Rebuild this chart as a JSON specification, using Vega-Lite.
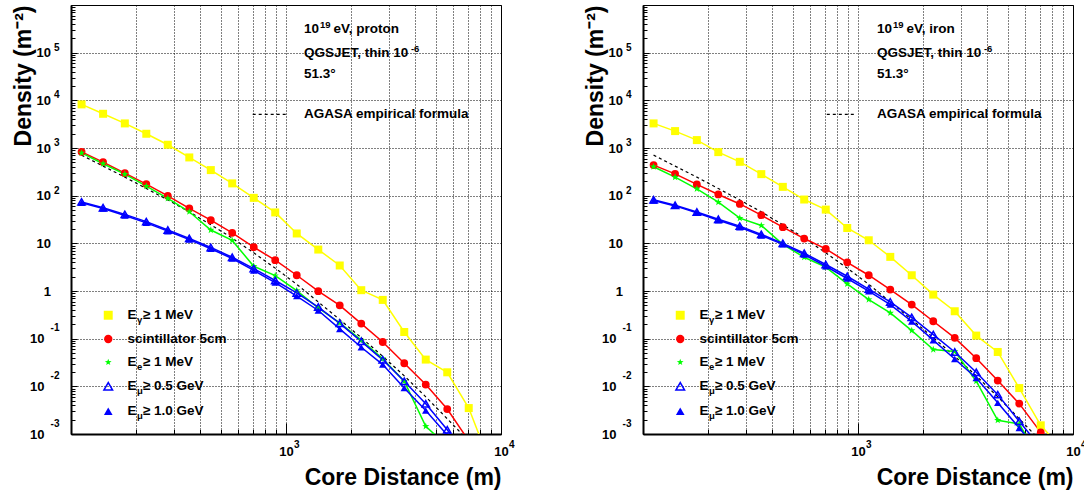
{
"$schema": "https://vega.github.io/schema/vega-lite/v6.json",
"padding": {"left": 12, "top": 4, "right": 0, "bottom": 0},
"bounds": "flush",
"spacing": 142,
"config": {
  "font": "Liberation Sans",
  "view": {"stroke": "#000", "strokeWidth": 1},
  "axis": {"labelFont": "Liberation Sans", "titleFont": "Liberation Sans", "labelFontWeight": "bold", "titleFontWeight": "bold", "labelColor": "#000", "titleColor": "#000", "domainColor": "#000", "domainWidth": 2, "tickColor": "#000", "tickWidth": 1, "gridColor": "#000", "gridDash": [1, 2], "gridWidth": 1, "labelFlush": false, "labelOverlap": false, "labelBound": false}
},
"datasets": {
  "agasa": [
    {"r":112,"v":708,"s":"ag"},{"r":141,"v":417,"s":"ag"},{"r":178,"v":245,"s":"ag"},{"r":224,"v":141,"s":"ag"},{"r":282,"v":81.3,"s":"ag"},{"r":355,"v":45.7,"s":"ag"},{"r":447,"v":24.5,"s":"ag"},{"r":562,"v":12.9,"s":"ag"},{"r":708,"v":6.31,"s":"ag"},{"r":891,"v":3.02,"s":"ag"},{"r":1122,"v":1.38,"s":"ag"},{"r":1413,"v":0.589,"s":"ag"},{"r":1778,"v":0.251,"s":"ag"},{"r":2239,"v":0.105,"s":"ag"},{"r":2818,"v":0.0427,"s":"ag"},{"r":3548,"v":0.0166,"s":"ag"},{"r":4467,"v":0.00603,"s":"ag"},{"r":5623,"v":0.00209,"s":"ag"},{"r":7079,"v":0.000708,"s":"ag"},{"r":8913,"v":0.000251,"s":"ag"}
  ],
  "yexp_pos": [{"t":100000,"e":"5"},{"t":10000,"e":"4"},{"t":1000,"e":"3"},{"t":100,"e":"2"}],
  "yexp_neg": [{"t":0.1,"e":"-1"},{"t":0.01,"e":"-2"},{"t":0.001,"e":"-3"}],
  "xexp": [{"t":1000,"e":"3"},{"t":10000,"e":"4"}],
  "proton": [
    {"r":112,"v":8220,"s":"g"},{"r":141,"v":5220,"s":"g"},{"r":178,"v":3280,"s":"g"},{"r":224,"v":1990,"s":"g"},{"r":282,"v":1170,"s":"g"},{"r":355,"v":634,"s":"g"},{"r":447,"v":344,"s":"g"},{"r":562,"v":181,"s":"g"},{"r":708,"v":90,"s":"g"},{"r":891,"v":44.5,"s":"g"},{"r":1122,"v":16.1,"s":"g"},{"r":1413,"v":7.4,"s":"g"},{"r":1778,"v":3.43,"s":"g"},{"r":2239,"v":1.04,"s":"g"},{"r":2818,"v":0.65,"s":"g"},{"r":3548,"v":0.138,"s":"g"},{"r":4467,"v":0.0364,"s":"g"},{"r":5623,"v":0.0197,"s":"g"},{"r":7079,"v":0.0035,"s":"g"},{"r":8913,"v":0.00024,"s":"g"},
    {"r":112,"v":832,"s":"sc"},{"r":141,"v":506,"s":"sc"},{"r":178,"v":297,"s":"sc"},{"r":224,"v":175,"s":"sc"},{"r":282,"v":99,"s":"sc"},{"r":355,"v":54,"s":"sc"},{"r":447,"v":30.6,"s":"sc"},{"r":562,"v":16.6,"s":"sc"},{"r":708,"v":8.3,"s":"sc"},{"r":891,"v":4.43,"s":"sc"},{"r":1122,"v":2.14,"s":"sc"},{"r":1413,"v":0.99,"s":"sc"},{"r":1778,"v":0.5,"s":"sc"},{"r":2239,"v":0.207,"s":"sc"},{"r":2818,"v":0.085,"s":"sc"},{"r":3548,"v":0.0305,"s":"sc"},{"r":4467,"v":0.0109,"s":"sc"},{"r":5623,"v":0.00334,"s":"sc"},{"r":7079,"v":0.00072,"s":"sc"},
    {"r":112,"v":790,"s":"e"},{"r":141,"v":467,"s":"e"},{"r":178,"v":283,"s":"e"},{"r":224,"v":158,"s":"e"},{"r":282,"v":87.5,"s":"e"},{"r":355,"v":46,"s":"e"},{"r":447,"v":19,"s":"e"},{"r":562,"v":11.5,"s":"e"},{"r":708,"v":3.3,"s":"e"},{"r":891,"v":2.1,"s":"e"},{"r":1122,"v":1.02,"s":"e"},{"r":1413,"v":0.44,"s":"e"},{"r":1778,"v":0.214,"s":"e"},{"r":2239,"v":0.093,"s":"e"},{"r":2818,"v":0.038,"s":"e"},{"r":3548,"v":0.0128,"s":"e"},{"r":4467,"v":0.00145,"s":"e"},{"r":5623,"v":0.00056,"s":"e"},
    {"r":112,"v":74,"s":"m5"},{"r":141,"v":56,"s":"m5"},{"r":178,"v":40.5,"s":"m5"},{"r":224,"v":28.5,"s":"m5"},{"r":282,"v":19,"s":"m5"},{"r":355,"v":12.7,"s":"m5"},{"r":447,"v":8.2,"s":"m5"},{"r":562,"v":5.1,"s":"m5"},{"r":708,"v":2.95,"s":"m5"},{"r":891,"v":1.66,"s":"m5"},{"r":1122,"v":0.91,"s":"m5"},{"r":1413,"v":0.46,"s":"m5"},{"r":1778,"v":0.21,"s":"m5"},{"r":2239,"v":0.088,"s":"m5"},{"r":2818,"v":0.036,"s":"m5"},{"r":3548,"v":0.0128,"s":"m5"},{"r":4467,"v":0.0043,"s":"m5"},{"r":5623,"v":0.00123,"s":"m5"},{"r":7079,"v":0.0003,"s":"m5"},
    {"r":112,"v":70.7,"s":"m1"},{"r":141,"v":54,"s":"m1"},{"r":178,"v":38.5,"s":"m1"},{"r":224,"v":26.9,"s":"m1"},{"r":282,"v":18,"s":"m1"},{"r":355,"v":12,"s":"m1"},{"r":447,"v":7.7,"s":"m1"},{"r":562,"v":4.8,"s":"m1"},{"r":708,"v":2.7,"s":"m1"},{"r":891,"v":1.5,"s":"m1"},{"r":1122,"v":0.78,"s":"m1"},{"r":1413,"v":0.39,"s":"m1"},{"r":1778,"v":0.16,"s":"m1"},{"r":2239,"v":0.066,"s":"m1"},{"r":2818,"v":0.0286,"s":"m1"},{"r":3548,"v":0.0092,"s":"m1"},{"r":4467,"v":0.0031,"s":"m1"},{"r":5623,"v":0.00095,"s":"m1"},{"r":7079,"v":0.0002,"s":"m1"}
  ],
  "iron": [
    {"r":112,"v":3280,"s":"g"},{"r":141,"v":2264,"s":"g"},{"r":178,"v":1466,"s":"g"},{"r":224,"v":820,"s":"g"},{"r":282,"v":513,"s":"g"},{"r":355,"v":283,"s":"g"},{"r":447,"v":153,"s":"g"},{"r":562,"v":83,"s":"g"},{"r":708,"v":51,"s":"g"},{"r":891,"v":21,"s":"g"},{"r":1122,"v":11.6,"s":"g"},{"r":1413,"v":5.2,"s":"g"},{"r":1778,"v":2.14,"s":"g"},{"r":2239,"v":0.84,"s":"g"},{"r":2818,"v":0.376,"s":"g"},{"r":3548,"v":0.116,"s":"g"},{"r":4467,"v":0.0526,"s":"g"},{"r":5623,"v":0.0092,"s":"g"},{"r":7079,"v":0.00152,"s":"g"},{"r":8913,"v":0.00048,"s":"g"},
    {"r":112,"v":438,"s":"sc"},{"r":141,"v":287,"s":"sc"},{"r":178,"v":172,"s":"sc"},{"r":224,"v":106,"s":"sc"},{"r":282,"v":67,"s":"sc"},{"r":355,"v":39,"s":"sc"},{"r":447,"v":21.8,"s":"sc"},{"r":562,"v":12.6,"s":"sc"},{"r":708,"v":7.65,"s":"sc"},{"r":891,"v":4.0,"s":"sc"},{"r":1122,"v":2.14,"s":"sc"},{"r":1413,"v":1.07,"s":"sc"},{"r":1778,"v":0.52,"s":"sc"},{"r":2239,"v":0.232,"s":"sc"},{"r":2818,"v":0.104,"s":"sc"},{"r":3548,"v":0.039,"s":"sc"},{"r":4467,"v":0.0132,"s":"sc"},{"r":5623,"v":0.00434,"s":"sc"},{"r":7079,"v":0.00108,"s":"sc"},{"r":8913,"v":0.00027,"s":"sc"},
    {"r":112,"v":404,"s":"e"},{"r":141,"v":245,"s":"e"},{"r":178,"v":139,"s":"e"},{"r":224,"v":73,"s":"e"},{"r":282,"v":33.7,"s":"e"},{"r":355,"v":23.7,"s":"e"},{"r":447,"v":9.5,"s":"e"},{"r":562,"v":5.1,"s":"e"},{"r":708,"v":3.16,"s":"e"},{"r":891,"v":1.41,"s":"e"},{"r":1122,"v":0.66,"s":"e"},{"r":1413,"v":0.347,"s":"e"},{"r":1778,"v":0.148,"s":"e"},{"r":2239,"v":0.059,"s":"e"},{"r":2818,"v":0.054,"s":"e"},{"r":3548,"v":0.0128,"s":"e"},{"r":4467,"v":0.00194,"s":"e"},{"r":5623,"v":0.00162,"s":"e"},{"r":7079,"v":0.00028,"s":"e"},
    {"r":112,"v":82,"s":"m5"},{"r":141,"v":63,"s":"m5"},{"r":178,"v":45.5,"s":"m5"},{"r":224,"v":32,"s":"m5"},{"r":282,"v":23,"s":"m5"},{"r":355,"v":15.4,"s":"m5"},{"r":447,"v":10,"s":"m5"},{"r":562,"v":6.2,"s":"m5"},{"r":708,"v":3.6,"s":"m5"},{"r":891,"v":2.04,"s":"m5"},{"r":1122,"v":1.1,"s":"m5"},{"r":1413,"v":0.59,"s":"m5"},{"r":1778,"v":0.28,"s":"m5"},{"r":2239,"v":0.122,"s":"m5"},{"r":2818,"v":0.0526,"s":"m5"},{"r":3548,"v":0.0197,"s":"m5"},{"r":4467,"v":0.0067,"s":"m5"},{"r":5623,"v":0.00185,"s":"m5"},{"r":7079,"v":0.00052,"s":"m5"},
    {"r":112,"v":79,"s":"m1"},{"r":141,"v":61,"s":"m1"},{"r":178,"v":43.6,"s":"m1"},{"r":224,"v":30.6,"s":"m1"},{"r":282,"v":21.8,"s":"m1"},{"r":355,"v":14.6,"s":"m1"},{"r":447,"v":9.5,"s":"m1"},{"r":562,"v":5.8,"s":"m1"},{"r":708,"v":3.3,"s":"m1"},{"r":891,"v":1.83,"s":"m1"},{"r":1122,"v":0.99,"s":"m1"},{"r":1413,"v":0.52,"s":"m1"},{"r":1778,"v":0.23,"s":"m1"},{"r":2239,"v":0.093,"s":"m1"},{"r":2818,"v":0.0375,"s":"m1"},{"r":3548,"v":0.015,"s":"m1"},{"r":4467,"v":0.0045,"s":"m1"},{"r":5623,"v":0.00134,"s":"m1"},{"r":7079,"v":0.00038,"s":"m1"}
  ]
},
"hconcat": [
 {
  "width": 430, "height": 429,
  "data": {"name": "proton"},
  "layer": [
    {"data": {"name": "agasa"}, "mark": {"type": "line", "color": "#000", "strokeDash": [3, 3], "strokeWidth": 1.2, "clip": true},
     "encoding": {
      "x": {"field": "r", "type": "quantitative", "scale": {"type": "log", "domain": [100, 10000], "nice": false},
        "axis": {"values": [100,200,300,400,500,600,700,800,900,1000,2000,3000,4000,5000,6000,7000,8000,9000,10000],
          "labelExpr": "datum.value == 1000 || datum.value == 10000 ? '10' : ''",
          "title": "Core Distance (m)", "titleAnchor": "end", "titleFontSize": 23, "titlePadding": 8,
          "labelFontSize": {"condition": {"test": "datum.value == 1000 || datum.value == 10000", "value": 13}, "value": 0},
          "tickSize": {"condition": {"test": "datum.value == 100 || datum.value == 1000 || datum.value == 10000", "value": -11}, "value": -4.5},
          "labelPadding": {"condition": {"test": "datum.value == 100 || datum.value == 1000 || datum.value == 10000", "value": 22.5}, "value": 16}}},
      "y": {"field": "v", "type": "quantitative", "scale": {"type": "log", "domain": [0.001, 1000000], "nice": false},
        "axis": {"values": [0.001,0.002,0.003,0.004,0.005,0.006,0.007,0.008,0.009,0.01,0.02,0.03,0.04,0.05,0.06,0.07,0.08,0.09,0.1,0.2,0.3,0.4,0.5,0.6,0.7,0.8,0.9,1,2,3,4,5,6,7,8,9,10,20,30,40,50,60,70,80,90,100,200,300,400,500,600,700,800,900,1000,2000,3000,4000,5000,6000,7000,8000,9000,10000,20000,30000,40000,50000,60000,70000,80000,90000,100000,200000,300000,400000,500000,600000,700000,800000,900000],
          "labelExpr": "indexof([0.001,0.01,0.1,10,100,1000,10000,100000], datum.value) >= 0 ? '10' : datum.value == 1 ? '1' : ''",
          "title": "Density (m⁻²)", "titleAnchor": "end", "titleFontSize": 23, "titlePadding": -6,
          "labelFontSize": {"condition": {"test": "indexof([0.001,0.01,0.1,1,10,100,1000,10000,100000], datum.value) >= 0", "value": 13}, "value": 0},
          "tickSize": {"condition": {"test": "indexof([0.001,0.01,0.1,1,10,100,1000,10000,100000,1000000], datum.value) >= 0", "value": -6}, "value": -4},
          "labelPadding": {"condition": {"test": "datum.value < 0.5", "value": 33}, "value": 26.5},
          "gridOpacity": {"condition": {"test": "indexof([0.001,0.01,0.1,1,10,100,1000,10000,100000,1000000], datum.value) >= 0", "value": 1}, "value": 0}}}
     }},
    {"mark": {"type": "line", "strokeWidth": 1.5, "clip": true},
     "encoding": {"x": {"field": "r", "type": "quantitative"}, "y": {"field": "v", "type": "quantitative"},
       "color": {"field": "s", "type": "nominal", "scale": {"domain": ["g","sc","e","m5","m1"], "range": ["#ffff00","#ff0000","#00ff00","#0000ff","#0000ff"]}, "legend": null}}},
    {"transform": [{"filter": "datum.s != 'm5'"}],
     "mark": {"type": "point", "filled": true, "opacity": 1, "clip": true},
     "encoding": {"x": {"field": "r", "type": "quantitative"}, "y": {"field": "v", "type": "quantitative"},
       "color": {"field": "s", "type": "nominal", "scale": {"domain": ["g","sc","e","m5","m1"], "range": ["#ffff00","#ff0000","#00ff00","#0000ff","#0000ff"]}, "legend": null},
       "shape": {"field": "s", "type": "nominal", "scale": {"domain": ["g","sc","e","m1"], "range": ["square","circle","M0,-1L0.235,-0.324L0.951,-0.309L0.38,0.124L0.588,0.809L0,0.4L-0.588,0.809L-0.38,0.124L-0.951,-0.309L-0.235,-0.324Z","triangle-up"]}, "legend": null},
       "size": {"field": "s", "type": "nominal", "scale": {"domain": ["g","sc","e","m1"], "range": [64,55,40,65]}, "legend": null}}},
    {"transform": [{"filter": "datum.s == 'm5'"}],
     "mark": {"type": "point", "filled": false, "opacity": 1, "color": "#0000ff", "strokeWidth": 1.5, "shape": "triangle-up", "size": 55, "clip": true},
     "encoding": {"x": {"field": "r", "type": "quantitative"}, "y": {"field": "v", "type": "quantitative"}}},
    {"data": {"name": "yexp_pos"}, "mark": {"type": "text", "align": "right", "baseline": "middle", "dx": -11.5, "dy": -5, "fontSize": 10, "fontWeight": "bold"}, "encoding": {"x": {"datum": 100}, "y": {"field": "t", "type": "quantitative"}, "text": {"field": "e"}}},
    {"data": {"name": "yexp_neg"}, "mark": {"type": "text", "align": "right", "baseline": "middle", "dx": -11.5, "dy": -10.5, "fontSize": 10, "fontWeight": "bold"}, "encoding": {"x": {"datum": 100}, "y": {"field": "t", "type": "quantitative"}, "text": {"field": "e"}}},
    {"data": {"name": "xexp"}, "mark": {"type": "text", "align": "left", "baseline": "middle", "dx": 8, "dy": 10.5, "fontSize": 10, "fontWeight": "bold"}, "encoding": {"x": {"field": "t", "type": "quantitative"}, "y": {"datum": 0.001}, "text": {"field": "e"}}},
    {"data": {"values": [{}]}, "mark": {"type": "text", "text": "10", "align": "left", "baseline": "middle", "fontSize": 13.5, "fontWeight": "bold"}, "encoding": {"x": {"datum": 1211}, "y": {"datum": 310000}}},
    {"data": {"values": [{}]}, "mark": {"type": "text", "text": "19", "align": "left", "baseline": "middle", "fontSize": 9.5, "fontWeight": "bold", "dx": 16, "dy": -4}, "encoding": {"x": {"datum": 1211}, "y": {"datum": 310000}}},
    {"data": {"values": [{}]}, "mark": {"type": "text", "text": "eV, proton", "align": "left", "baseline": "middle", "fontSize": 13.5, "fontWeight": "bold", "dx": 29.5}, "encoding": {"x": {"datum": 1211}, "y": {"datum": 310000}}},
    {"data": {"values": [{}]}, "mark": {"type": "text", "text": "QGSJET, thin 10", "align": "left", "baseline": "middle", "fontSize": 13.5, "fontWeight": "bold"}, "encoding": {"x": {"datum": 1211}, "y": {"datum": 100000}}},
    {"data": {"values": [{}]}, "mark": {"type": "text", "text": "-6", "align": "left", "baseline": "middle", "fontSize": 9.5, "fontWeight": "bold", "dx": 107, "dy": -4}, "encoding": {"x": {"datum": 1211}, "y": {"datum": 100000}}},
    {"data": {"values": [{}]}, "mark": {"type": "text", "text": "51.3°", "align": "left", "baseline": "middle", "fontSize": 13.5, "fontWeight": "bold"}, "encoding": {"x": {"datum": 1211}, "y": {"datum": 35000}}},
    {"data": {"values": [{}]}, "mark": {"type": "text", "text": "AGASA empirical formula", "align": "left", "baseline": "middle", "fontSize": 13.5, "fontWeight": "bold"}, "encoding": {"x": {"datum": 1211}, "y": {"datum": 5070}}},
    {"data": {"values": [{}]}, "mark": {"type": "rule", "color": "#000", "strokeDash": [3, 3], "strokeWidth": 1.2}, "encoding": {"x": {"datum": 700}, "x2": {"datum": 1000}, "y": {"datum": 5070}}},
    {"data": {"values": [{}]}, "mark": {"type": "point", "filled": true, "opacity": 1, "shape": "square", "size": 80, "color": "#ffff00"}, "encoding": {"x": {"datum": 149}, "y": {"datum": 0.31}}},
    {"data": {"values": [{}]}, "mark": {"type": "point", "filled": true, "opacity": 1, "shape": "circle", "size": 70, "color": "#ff0000"}, "encoding": {"x": {"datum": 149}, "y": {"datum": 0.0986}}},
    {"data": {"values": [{}]}, "mark": {"type": "point", "filled": true, "opacity": 1, "shape": "M0,-1L0.235,-0.324L0.951,-0.309L0.38,0.124L0.588,0.809L0,0.4L-0.588,0.809L-0.38,0.124L-0.951,-0.309L-0.235,-0.324Z", "size": 50, "color": "#00ff00"}, "encoding": {"x": {"datum": 149}, "y": {"datum": 0.032}}},
    {"data": {"values": [{}]}, "mark": {"type": "point", "filled": false, "opacity": 1, "shape": "triangle-up", "size": 75, "strokeWidth": 1.5, "color": "#0000ff"}, "encoding": {"x": {"datum": 149}, "y": {"datum": 0.01}}},
    {"data": {"values": [{}]}, "mark": {"type": "point", "filled": true, "opacity": 1, "shape": "triangle-up", "size": 75, "color": "#0000ff"}, "encoding": {"x": {"datum": 149}, "y": {"datum": 0.003}}},
    {"data": {"values": [{}]}, "mark": {"type": "text", "text": "E", "align": "left", "baseline": "middle", "fontSize": 13.5, "fontWeight": "bold"}, "encoding": {"x": {"datum": 183}, "y": {"datum": 0.31}}},
    {"data": {"values": [{}]}, "mark": {"type": "text", "text": "γ", "align": "left", "baseline": "middle", "fontSize": 9.5, "fontWeight": "bold", "dx": 9.5, "dy": 5}, "encoding": {"x": {"datum": 183}, "y": {"datum": 0.31}}},
    {"data": {"values": [{}]}, "mark": {"type": "text", "text": "≥ 1 MeV", "align": "left", "baseline": "middle", "fontSize": 13.5, "fontWeight": "bold", "dx": 15.5}, "encoding": {"x": {"datum": 183}, "y": {"datum": 0.31}}},
    {"data": {"values": [{}]}, "mark": {"type": "text", "text": "scintillator 5cm", "align": "left", "baseline": "middle", "fontSize": 13.5, "fontWeight": "bold"}, "encoding": {"x": {"datum": 183}, "y": {"datum": 0.0986}}},
    {"data": {"values": [{}]}, "mark": {"type": "text", "text": "E", "align": "left", "baseline": "middle", "fontSize": 13.5, "fontWeight": "bold"}, "encoding": {"x": {"datum": 183}, "y": {"datum": 0.032}}},
    {"data": {"values": [{}]}, "mark": {"type": "text", "text": "e", "align": "left", "baseline": "middle", "fontSize": 9.5, "fontWeight": "bold", "dx": 9.5, "dy": 5}, "encoding": {"x": {"datum": 183}, "y": {"datum": 0.032}}},
    {"data": {"values": [{}]}, "mark": {"type": "text", "text": "≥ 1 MeV", "align": "left", "baseline": "middle", "fontSize": 13.5, "fontWeight": "bold", "dx": 15.5}, "encoding": {"x": {"datum": 183}, "y": {"datum": 0.032}}},
    {"data": {"values": [{}]}, "mark": {"type": "text", "text": "E", "align": "left", "baseline": "middle", "fontSize": 13.5, "fontWeight": "bold"}, "encoding": {"x": {"datum": 183}, "y": {"datum": 0.01}}},
    {"data": {"values": [{}]}, "mark": {"type": "text", "text": "μ", "align": "left", "baseline": "middle", "fontSize": 9.5, "fontWeight": "bold", "dx": 9.5, "dy": 5}, "encoding": {"x": {"datum": 183}, "y": {"datum": 0.01}}},
    {"data": {"values": [{}]}, "mark": {"type": "text", "text": "≥ 0.5 GeV", "align": "left", "baseline": "middle", "fontSize": 13.5, "fontWeight": "bold", "dx": 15.5}, "encoding": {"x": {"datum": 183}, "y": {"datum": 0.01}}},
    {"data": {"values": [{}]}, "mark": {"type": "text", "text": "E", "align": "left", "baseline": "middle", "fontSize": 13.5, "fontWeight": "bold"}, "encoding": {"x": {"datum": 183}, "y": {"datum": 0.003}}},
    {"data": {"values": [{}]}, "mark": {"type": "text", "text": "μ", "align": "left", "baseline": "middle", "fontSize": 9.5, "fontWeight": "bold", "dx": 9.5, "dy": 5}, "encoding": {"x": {"datum": 183}, "y": {"datum": 0.003}}},
    {"data": {"values": [{}]}, "mark": {"type": "text", "text": "≥ 1.0 GeV", "align": "left", "baseline": "middle", "fontSize": 13.5, "fontWeight": "bold", "dx": 15.5}, "encoding": {"x": {"datum": 183}, "y": {"datum": 0.003}}}
  ]
 },
 {
  "width": 430, "height": 429,
  "data": {"name": "iron"},
  "layer": [
    {"data": {"name": "agasa"}, "mark": {"type": "line", "color": "#000", "strokeDash": [3, 3], "strokeWidth": 1.2, "clip": true},
     "encoding": {
      "x": {"field": "r", "type": "quantitative", "scale": {"type": "log", "domain": [100, 10000], "nice": false},
        "axis": {"values": [100,200,300,400,500,600,700,800,900,1000,2000,3000,4000,5000,6000,7000,8000,9000,10000],
          "labelExpr": "datum.value == 1000 || datum.value == 10000 ? '10' : ''",
          "title": "Core Distance (m)", "titleAnchor": "end", "titleFontSize": 23, "titlePadding": 8,
          "labelFontSize": {"condition": {"test": "datum.value == 1000 || datum.value == 10000", "value": 13}, "value": 0},
          "tickSize": {"condition": {"test": "datum.value == 100 || datum.value == 1000 || datum.value == 10000", "value": -11}, "value": -4.5},
          "labelPadding": {"condition": {"test": "datum.value == 100 || datum.value == 1000 || datum.value == 10000", "value": 22.5}, "value": 16}}},
      "y": {"field": "v", "type": "quantitative", "scale": {"type": "log", "domain": [0.001, 1000000], "nice": false},
        "axis": {"values": [0.001,0.002,0.003,0.004,0.005,0.006,0.007,0.008,0.009,0.01,0.02,0.03,0.04,0.05,0.06,0.07,0.08,0.09,0.1,0.2,0.3,0.4,0.5,0.6,0.7,0.8,0.9,1,2,3,4,5,6,7,8,9,10,20,30,40,50,60,70,80,90,100,200,300,400,500,600,700,800,900,1000,2000,3000,4000,5000,6000,7000,8000,9000,10000,20000,30000,40000,50000,60000,70000,80000,90000,100000,200000,300000,400000,500000,600000,700000,800000,900000],
          "labelExpr": "indexof([0.001,0.01,0.1,10,100,1000,10000,100000], datum.value) >= 0 ? '10' : datum.value == 1 ? '1' : ''",
          "title": "Density (m⁻²)", "titleAnchor": "end", "titleFontSize": 23, "titlePadding": -6,
          "labelFontSize": {"condition": {"test": "indexof([0.001,0.01,0.1,1,10,100,1000,10000,100000], datum.value) >= 0", "value": 13}, "value": 0},
          "tickSize": {"condition": {"test": "indexof([0.001,0.01,0.1,1,10,100,1000,10000,100000,1000000], datum.value) >= 0", "value": -6}, "value": -4},
          "labelPadding": {"condition": {"test": "datum.value < 0.5", "value": 33}, "value": 26.5},
          "gridOpacity": {"condition": {"test": "indexof([0.001,0.01,0.1,1,10,100,1000,10000,100000,1000000], datum.value) >= 0", "value": 1}, "value": 0}}}
     }},
    {"mark": {"type": "line", "strokeWidth": 1.5, "clip": true},
     "encoding": {"x": {"field": "r", "type": "quantitative"}, "y": {"field": "v", "type": "quantitative"},
       "color": {"field": "s", "type": "nominal", "scale": {"domain": ["g","sc","e","m5","m1"], "range": ["#ffff00","#ff0000","#00ff00","#0000ff","#0000ff"]}, "legend": null}}},
    {"transform": [{"filter": "datum.s != 'm5'"}],
     "mark": {"type": "point", "filled": true, "opacity": 1, "clip": true},
     "encoding": {"x": {"field": "r", "type": "quantitative"}, "y": {"field": "v", "type": "quantitative"},
       "color": {"field": "s", "type": "nominal", "scale": {"domain": ["g","sc","e","m5","m1"], "range": ["#ffff00","#ff0000","#00ff00","#0000ff","#0000ff"]}, "legend": null},
       "shape": {"field": "s", "type": "nominal", "scale": {"domain": ["g","sc","e","m1"], "range": ["square","circle","M0,-1L0.235,-0.324L0.951,-0.309L0.38,0.124L0.588,0.809L0,0.4L-0.588,0.809L-0.38,0.124L-0.951,-0.309L-0.235,-0.324Z","triangle-up"]}, "legend": null},
       "size": {"field": "s", "type": "nominal", "scale": {"domain": ["g","sc","e","m1"], "range": [64,55,40,65]}, "legend": null}}},
    {"transform": [{"filter": "datum.s == 'm5'"}],
     "mark": {"type": "point", "filled": false, "opacity": 1, "color": "#0000ff", "strokeWidth": 1.5, "shape": "triangle-up", "size": 55, "clip": true},
     "encoding": {"x": {"field": "r", "type": "quantitative"}, "y": {"field": "v", "type": "quantitative"}}},
    {"data": {"name": "yexp_pos"}, "mark": {"type": "text", "align": "right", "baseline": "middle", "dx": -11.5, "dy": -5, "fontSize": 10, "fontWeight": "bold"}, "encoding": {"x": {"datum": 100}, "y": {"field": "t", "type": "quantitative"}, "text": {"field": "e"}}},
    {"data": {"name": "yexp_neg"}, "mark": {"type": "text", "align": "right", "baseline": "middle", "dx": -11.5, "dy": -10.5, "fontSize": 10, "fontWeight": "bold"}, "encoding": {"x": {"datum": 100}, "y": {"field": "t", "type": "quantitative"}, "text": {"field": "e"}}},
    {"data": {"name": "xexp"}, "mark": {"type": "text", "align": "left", "baseline": "middle", "dx": 8, "dy": 10.5, "fontSize": 10, "fontWeight": "bold"}, "encoding": {"x": {"field": "t", "type": "quantitative"}, "y": {"datum": 0.001}, "text": {"field": "e"}}},
    {"data": {"values": [{}]}, "mark": {"type": "text", "text": "10", "align": "left", "baseline": "middle", "fontSize": 13.5, "fontWeight": "bold"}, "encoding": {"x": {"datum": 1225}, "y": {"datum": 310000}}},
    {"data": {"values": [{}]}, "mark": {"type": "text", "text": "19", "align": "left", "baseline": "middle", "fontSize": 9.5, "fontWeight": "bold", "dx": 16, "dy": -4}, "encoding": {"x": {"datum": 1225}, "y": {"datum": 310000}}},
    {"data": {"values": [{}]}, "mark": {"type": "text", "text": "eV, iron", "align": "left", "baseline": "middle", "fontSize": 13.5, "fontWeight": "bold", "dx": 29.5}, "encoding": {"x": {"datum": 1225}, "y": {"datum": 310000}}},
    {"data": {"values": [{}]}, "mark": {"type": "text", "text": "QGSJET, thin 10", "align": "left", "baseline": "middle", "fontSize": 13.5, "fontWeight": "bold"}, "encoding": {"x": {"datum": 1225}, "y": {"datum": 100000}}},
    {"data": {"values": [{}]}, "mark": {"type": "text", "text": "-6", "align": "left", "baseline": "middle", "fontSize": 9.5, "fontWeight": "bold", "dx": 107, "dy": -4}, "encoding": {"x": {"datum": 1225}, "y": {"datum": 100000}}},
    {"data": {"values": [{}]}, "mark": {"type": "text", "text": "51.3°", "align": "left", "baseline": "middle", "fontSize": 13.5, "fontWeight": "bold"}, "encoding": {"x": {"datum": 1225}, "y": {"datum": 35000}}},
    {"data": {"values": [{}]}, "mark": {"type": "text", "text": "AGASA empirical formula", "align": "left", "baseline": "middle", "fontSize": 13.5, "fontWeight": "bold"}, "encoding": {"x": {"datum": 1225}, "y": {"datum": 5070}}},
    {"data": {"values": [{}]}, "mark": {"type": "rule", "color": "#000", "strokeDash": [3, 3], "strokeWidth": 1.2}, "encoding": {"x": {"datum": 716}, "x2": {"datum": 987}, "y": {"datum": 5070}}},
    {"data": {"values": [{}]}, "mark": {"type": "point", "filled": true, "opacity": 1, "shape": "square", "size": 80, "color": "#ffff00"}, "encoding": {"x": {"datum": 149}, "y": {"datum": 0.31}}},
    {"data": {"values": [{}]}, "mark": {"type": "point", "filled": true, "opacity": 1, "shape": "circle", "size": 70, "color": "#ff0000"}, "encoding": {"x": {"datum": 149}, "y": {"datum": 0.0986}}},
    {"data": {"values": [{}]}, "mark": {"type": "point", "filled": true, "opacity": 1, "shape": "M0,-1L0.235,-0.324L0.951,-0.309L0.38,0.124L0.588,0.809L0,0.4L-0.588,0.809L-0.38,0.124L-0.951,-0.309L-0.235,-0.324Z", "size": 50, "color": "#00ff00"}, "encoding": {"x": {"datum": 149}, "y": {"datum": 0.032}}},
    {"data": {"values": [{}]}, "mark": {"type": "point", "filled": false, "opacity": 1, "shape": "triangle-up", "size": 75, "strokeWidth": 1.5, "color": "#0000ff"}, "encoding": {"x": {"datum": 149}, "y": {"datum": 0.01}}},
    {"data": {"values": [{}]}, "mark": {"type": "point", "filled": true, "opacity": 1, "shape": "triangle-up", "size": 75, "color": "#0000ff"}, "encoding": {"x": {"datum": 149}, "y": {"datum": 0.003}}},
    {"data": {"values": [{}]}, "mark": {"type": "text", "text": "E", "align": "left", "baseline": "middle", "fontSize": 13.5, "fontWeight": "bold"}, "encoding": {"x": {"datum": 183}, "y": {"datum": 0.31}}},
    {"data": {"values": [{}]}, "mark": {"type": "text", "text": "γ", "align": "left", "baseline": "middle", "fontSize": 9.5, "fontWeight": "bold", "dx": 9.5, "dy": 5}, "encoding": {"x": {"datum": 183}, "y": {"datum": 0.31}}},
    {"data": {"values": [{}]}, "mark": {"type": "text", "text": "≥ 1 MeV", "align": "left", "baseline": "middle", "fontSize": 13.5, "fontWeight": "bold", "dx": 15.5}, "encoding": {"x": {"datum": 183}, "y": {"datum": 0.31}}},
    {"data": {"values": [{}]}, "mark": {"type": "text", "text": "scintillator 5cm", "align": "left", "baseline": "middle", "fontSize": 13.5, "fontWeight": "bold"}, "encoding": {"x": {"datum": 183}, "y": {"datum": 0.0986}}},
    {"data": {"values": [{}]}, "mark": {"type": "text", "text": "E", "align": "left", "baseline": "middle", "fontSize": 13.5, "fontWeight": "bold"}, "encoding": {"x": {"datum": 183}, "y": {"datum": 0.032}}},
    {"data": {"values": [{}]}, "mark": {"type": "text", "text": "e", "align": "left", "baseline": "middle", "fontSize": 9.5, "fontWeight": "bold", "dx": 9.5, "dy": 5}, "encoding": {"x": {"datum": 183}, "y": {"datum": 0.032}}},
    {"data": {"values": [{}]}, "mark": {"type": "text", "text": "≥ 1 MeV", "align": "left", "baseline": "middle", "fontSize": 13.5, "fontWeight": "bold", "dx": 15.5}, "encoding": {"x": {"datum": 183}, "y": {"datum": 0.032}}},
    {"data": {"values": [{}]}, "mark": {"type": "text", "text": "E", "align": "left", "baseline": "middle", "fontSize": 13.5, "fontWeight": "bold"}, "encoding": {"x": {"datum": 183}, "y": {"datum": 0.01}}},
    {"data": {"values": [{}]}, "mark": {"type": "text", "text": "μ", "align": "left", "baseline": "middle", "fontSize": 9.5, "fontWeight": "bold", "dx": 9.5, "dy": 5}, "encoding": {"x": {"datum": 183}, "y": {"datum": 0.01}}},
    {"data": {"values": [{}]}, "mark": {"type": "text", "text": "≥ 0.5 GeV", "align": "left", "baseline": "middle", "fontSize": 13.5, "fontWeight": "bold", "dx": 15.5}, "encoding": {"x": {"datum": 183}, "y": {"datum": 0.01}}},
    {"data": {"values": [{}]}, "mark": {"type": "text", "text": "E", "align": "left", "baseline": "middle", "fontSize": 13.5, "fontWeight": "bold"}, "encoding": {"x": {"datum": 183}, "y": {"datum": 0.003}}},
    {"data": {"values": [{}]}, "mark": {"type": "text", "text": "μ", "align": "left", "baseline": "middle", "fontSize": 9.5, "fontWeight": "bold", "dx": 9.5, "dy": 5}, "encoding": {"x": {"datum": 183}, "y": {"datum": 0.003}}},
    {"data": {"values": [{}]}, "mark": {"type": "text", "text": "≥ 1.0 GeV", "align": "left", "baseline": "middle", "fontSize": 13.5, "fontWeight": "bold", "dx": 15.5}, "encoding": {"x": {"datum": 183}, "y": {"datum": 0.003}}}
  ]
 }
]
}
